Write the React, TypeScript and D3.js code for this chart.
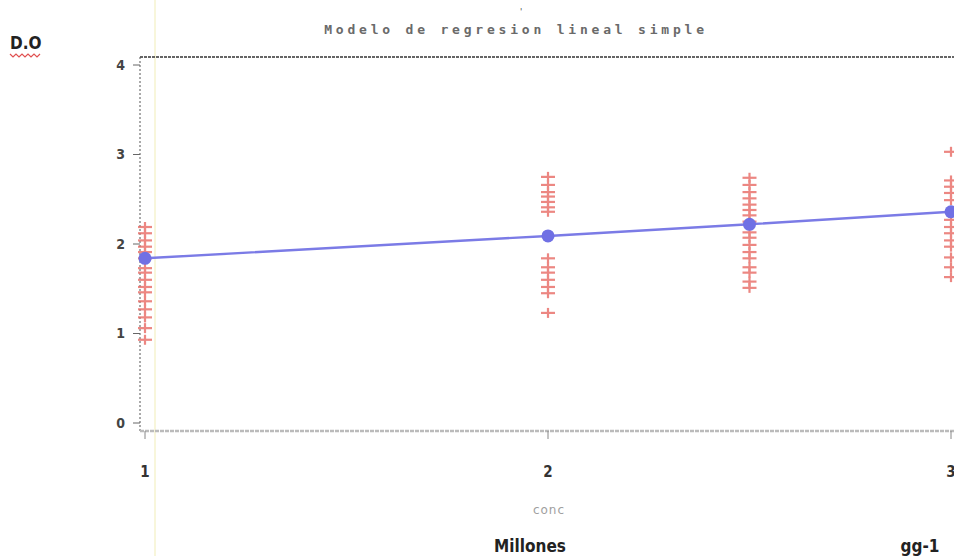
import React, { useEffect, useRef } from 'react'
import * as d3 from 'd3'

// concentraciones y lecturas de D.O.
const conc1 = [2.19, 2.12, 2.04, 1.97, 1.91, 1.84, 1.73, 1.68, 1.6, 1.52, 1.46, 1.36, 1.27, 1.18, 1.06, 0.93]
const conc2 = [2.75, 2.66, 2.58, 2.53, 2.47, 2.41, 2.36, 1.84, 1.74, 1.68, 1.6, 1.52, 1.45, 1.23]
const conc25 = [2.74, 2.66, 2.58, 2.51, 2.44, 2.38, 2.32, 2.25, 2.13, 2.07, 1.99, 1.91, 1.84, 1.74, 1.68, 1.58, 1.51]
const conc3 = [3.03, 2.71, 2.64, 2.57, 2.49, 2.27, 2.19, 2.12, 2.04, 1.97, 1.85, 1.74, 1.63]
const concLevels = [1, 2, 2.5, 3]
const fitted = [1.84, 2.09, 2.22, 2.36]
const xTicks = [1, 2, 3]
const yTicks = [0, 1, 2, 3, 4]

const W = 954
const H = 556

export default function App() {
  const ref = useRef<SVGSVGElement>(null)

  useEffect(() => {
    const svg = d3.select(ref.current)
    svg.selectAll('*').remove()

    const x = d3.scaleLinear().domain([1, 3]).range([145, 951])
    const y = d3.scaleLinear().domain([0, 4]).range([423, 65])
    const left = 140
    const top = 57
    const bottom = 431
    const font = '"DejaVu Sans Condensed", "Liberation Sans", sans-serif'

    // linea amarilla del escaneo
    svg.append('line')
      .attr('x1', 155).attr('x2', 155).attr('y1', 0).attr('y2', H)
      .attr('stroke', '#f6f3cf').attr('stroke-width', 1.5)

    // titulo
    svg.append('text')
      .attr('x', 516).attr('y', 34)
      .attr('text-anchor', 'middle')
      .attr('font-family', '"DejaVu Sans Mono", monospace')
      .attr('font-size', 13)
      .attr('font-weight', 'bold')
      .attr('letter-spacing', 3.8)
      .attr('fill', '#6a6a6a')
      .text('Modelo de regresion lineal simple')
    svg.append('text')
      .attr('x', 520).attr('y', 15)
      .attr('font-size', 9).attr('fill', '#444')
      .attr('font-family', font)
      .text("'")

    // D.O
    svg.append('text')
      .attr('x', 10).attr('y', 49)
      .attr('font-family', font)
      .attr('font-weight', 'bold')
      .attr('font-size', 17)
      .attr('fill', '#222')
      .text('D.O')
    svg.append('path')
      .attr('d', d3.range(0, 11).map(i => `${i === 0 ? 'M' : 'L'}${10 + i * 3},${i % 2 ? 57 : 54}`).join(''))
      .attr('fill', 'none').attr('stroke', '#e05050').attr('stroke-width', 1.2)

    // marco
    svg.append('line')
      .attr('x1', left).attr('x2', W).attr('y1', top).attr('y2', top)
      .attr('stroke', '#333').attr('stroke-width', 1.5).attr('stroke-dasharray', '3,1')
    svg.append('line')
      .attr('x1', left).attr('x2', left).attr('y1', top).attr('y2', bottom)
      .attr('stroke', '#555').attr('stroke-width', 1).attr('stroke-dasharray', '2,2')
    svg.append('line')
      .attr('x1', left).attr('x2', W).attr('y1', bottom).attr('y2', bottom)
      .attr('stroke', '#bbb').attr('stroke-width', 2.5).attr('stroke-dasharray', '4,1')

    // eje y
    const yg = svg.append('g')
    yg.selectAll('line').data(yTicks).enter().append('line')
      .attr('x1', left - 7).attr('x2', left).attr('y1', d => y(d)).attr('y2', d => y(d))
      .attr('stroke', '#666').attr('stroke-width', 1)
    yg.selectAll('text').data(yTicks).enter().append('text')
      .attr('x', 125).attr('y', d => y(d)).attr('dy', '0.35em')
      .attr('text-anchor', 'end')
      .attr('font-family', font).attr('font-weight', 'bold').attr('font-size', 14)
      .attr('fill', '#444')
      .text(d => d)

    // eje x
    const xg = svg.append('g')
    xg.selectAll('line').data(xTicks).enter().append('line')
      .attr('x1', d => x(d)).attr('x2', d => x(d)).attr('y1', bottom).attr('y2', bottom + 8)
      .attr('stroke', '#888').attr('stroke-width', 1)
    xg.selectAll('text').data(xTicks).enter().append('text')
      .attr('x', d => x(d)).attr('y', 477)
      .attr('text-anchor', 'middle')
      .attr('font-family', font).attr('font-weight', 'bold').attr('font-size', 15)
      .attr('fill', '#333')
      .text(d => d)

    svg.append('text')
      .attr('x', 549).attr('y', 514)
      .attr('text-anchor', 'middle')
      .attr('font-family', '"DejaVu Sans", sans-serif').attr('font-size', 12)
      .attr('letter-spacing', 1)
      .attr('fill', '#a0a0a0')
      .text('conc')

    svg.append('text')
      .attr('x', 530).attr('y', 552)
      .attr('text-anchor', 'middle')
      .attr('font-family', font).attr('font-weight', 'bold').attr('font-size', 17)
      .attr('fill', '#222')
      .text('Millones')
    svg.append('text')
      .attr('x', 920).attr('y', 552)
      .attr('text-anchor', 'middle')
      .attr('font-family', font).attr('font-weight', 'bold').attr('font-size', 17)
      .attr('fill', '#222')
      .text('gg-1')

    // puntos observados
    const groups = [conc1, conc2, conc25, conc3]
    const obs = groups.flatMap((vals, i) => vals.map(v => ({ c: concLevels[i], v })))
    const plus = svg.append('g').attr('stroke', '#e86a64').attr('stroke-width', 2.2).attr('opacity', 0.8)
    obs.forEach(d => {
      const cx = x(d.c), cy = y(d.v)
      plus.append('line').attr('x1', cx - 7).attr('x2', cx + 7).attr('y1', cy).attr('y2', cy)
      plus.append('line').attr('x1', cx).attr('x2', cx).attr('y1', cy - 5).attr('y2', cy + 5)
    })

    // recta ajustada
    const fit = concLevels.map((c, i) => ({ c, v: fitted[i] }))
    svg.append('path')
      .datum(fit)
      .attr('fill', 'none')
      .attr('stroke', '#7b7be6')
      .attr('stroke-width', 2.4)
      .attr('d', d3.line<{ c: number, v: number }>().x(d => x(d.c)).y(d => y(d.v)))
    svg.selectAll('circle.fit').data(fit).enter().append('circle')
      .attr('class', 'fit')
      .attr('cx', d => x(d.c)).attr('cy', d => y(d.v))
      .attr('r', 6.5)
      .attr('fill', '#7070e4')
  }, [])

  return (
    <svg ref={ref} width={W} height={H}
      style={{ position: 'absolute', left: 0, top: 0, background: '#fff' }} />
  )
}
